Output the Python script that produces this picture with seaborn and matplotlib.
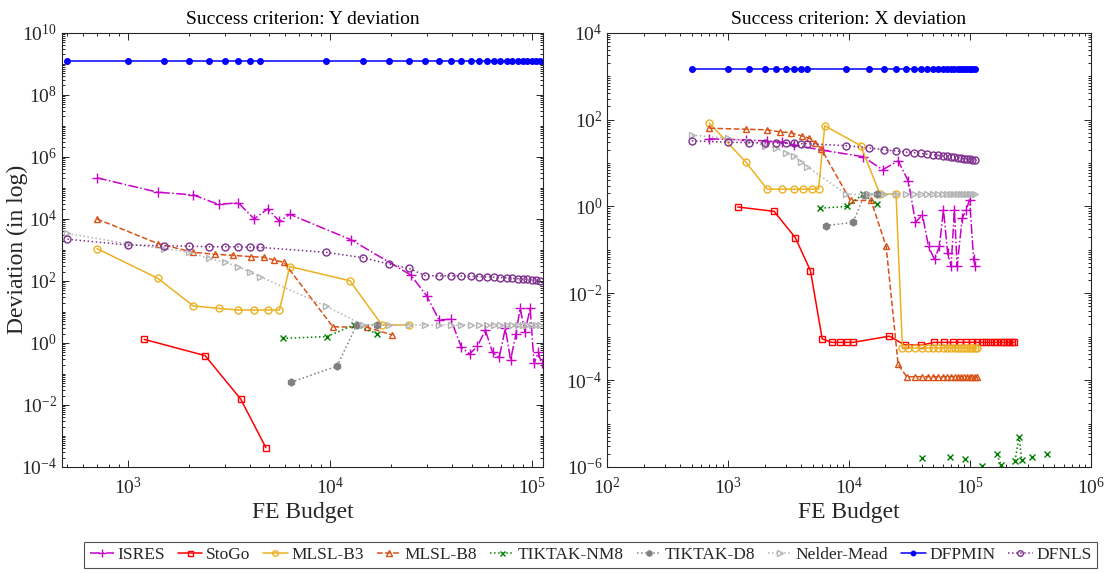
import numpy as np
import pandas as pd
import matplotlib
matplotlib.use("Agg")
import matplotlib.pyplot as plt
from matplotlib.lines import Line2D
from matplotlib.ticker import NullFormatter
import seaborn as sns

# ---------------------------------------------------------------- data
METHODS = ["ISRES", "StoGo", "MLSL-B3", "MLSL-B8", "TIKTAK-NM8",
           "TIKTAK-D8", "Nelder-Mead", "DFPMIN", "DFNLS"]

# budget grid shared by DFPMIN, Nelder-Mead and DFNLS
GRID = [500, 1000, 1500, 2000, 2500, 3000, 3500, 4000, 4500, 9500,
        14500, 19500, 24500, 29500, 34500, 39500, 44500, 49500, 54500, 59500,
        64500, 69500, 74500, 79500, 84500, 89500, 94500, 99500, 104500, 109500]

# ---- left panel: Y deviation
ISRES_Y_X = [700, 1400, 2100, 2800, 3500, 4200, 4900, 5600, 6300, 12700,
             25000, 30000, 34500, 39500, 44500, 49000, 53500, 58500, 63500, 68500,
             73500, 78000, 83000, 87000, 92000, 97500, 102000, 107000, 111000]
ISRES_Y = [2.1e5, 7.2e4, 5.9e4, 2.9e4, 3.3e4, 9.9e3, 2.1e4, 8.3e3, 1.4e4, 2.1e3,
           155, 33, 5.5, 5.8, 0.72, 0.44, 0.79, 2.6, 0.5, 0.34,
           2.95, 0.28, 2.0, 13, 2.3, 13, 0.22, 0.5, 0.22]
STOGO_Y_X = [1200, 2400, 3600, 4800]
STOGO_Y = [1.3, 0.39, 0.0155, 4.2e-4]
B3_X = [700, 1400, 2100, 2800, 3500, 4200, 4900, 5600, 6300, 12500, 18000, 24500]
B3_Y = [1100, 121, 15.5, 13, 11.5, 11.5, 11.5, 11.5, 290, 101, 3.8, 3.8]
B8_X = [700, 1400, 2100, 2700, 3300, 4050, 4700, 5250, 5900, 10300, 15200, 20300]
B8_Y = [9900, 1600, 835, 717, 665, 602, 575, 471, 396, 3.3, 3.2, 1.8]
NM8_Y_X = [5800, 9600, 13100, 17000]
NM8_Y = [1.4, 1.6, 3.8, 2.0]
D8_X = [6400, 10800, 13500, 17000]
D8_Y = [0.054, 0.18, 3.8, 3.8]
NELDER_Y = [3400, 1550, 1100, 835, 533, 396, 290, 189, 137, 15.5,
            3.8, 3.8, 3.8, 3.8, 3.8, 3.8, 3.8, 3.8, 3.8, 3.8,
            3.8, 3.8, 3.8, 3.8, 3.8, 3.8, 3.8, 3.8, 3.8, 3.8]
DFPMIN_Y = [1.2e9, 1.2e9, 1.2e9, 1.2e9, 1.2e9, 1.2e9, 1.2e9, 1.2e9, 1.2e9, 1.2e9,
            1.2e9, 1.2e9, 1.2e9, 1.2e9, 1.2e9, 1.2e9, 1.2e9, 1.2e9, 1.2e9, 1.2e9,
            1.2e9, 1.2e9, 1.2e9, 1.2e9, 1.2e9, 1.2e9, 1.2e9, 1.2e9, 1.2e9, 1.2e9]
DFNLS_Y = [2200, 1430, 1350, 1320, 1260, 1260, 1260, 1200, 1200, 835,
           558, 347, 254, 147, 146, 145, 143, 140, 137, 134,
           131, 128, 125, 121, 118, 114, 111, 108, 104, 100]

# ---- right panel: X deviation
ISRES_X_X = [700, 1400, 2100, 2800, 3500, 6100, 13000, 19000, 25500, 31000,
             35500, 40500, 45500, 51000, 56000, 60500, 65500, 70000, 74500, 78500,
             86500, 93500, 99500, 107500, 111000]
ISRES_X = [36, 34, 32, 30, 26, 19.6, 14, 7.0, 11.2, 3.8,
           0.43, 0.64, 0.12, 0.06, 0.12, 0.84, 0.085, 0.042, 0.84, 0.042,
           0.54, 0.84, 1.43, 0.06, 0.042]
STOGO_X_X = [1200, 2400, 3600, 4800, 6000, 7200, 8400, 9600, 10800, 21600,
             28800, 39600, 50400, 61200, 72000, 82800, 93600, 104400, 115200, 126000,
             136800, 147600, 158400, 169200, 180000, 190800, 201600, 212400, 223200, 234000]
STOGO_X = [0.97, 0.77, 0.19, 0.033, 8.9e-4, 7.4e-4, 7.4e-4, 7.4e-4, 7.4e-4, 1.03e-3,
           6.5e-4, 6.4e-4, 7.4e-4, 7.4e-4, 7.4e-4, 7.4e-4, 7.4e-4, 7.4e-4, 7.4e-4, 7.4e-4,
           7.4e-4, 7.4e-4, 7.4e-4, 7.4e-4, 7.4e-4, 7.4e-4, 7.4e-4, 7.4e-4, 7.4e-4, 7.4e-4]
B3_XD_X = [700, 1400, 2100, 2800, 3500, 4200, 4900, 5600, 6300, 12500,
           18000, 24500, 27700, 31000, 35000, 40000, 45000, 50000, 55000, 60000,
           65000, 70000, 75000, 80000, 85000, 90000, 95000, 100000, 105000, 110000, 115000]
B3_XD = [83, 10.5, 2.5, 2.5, 2.5, 2.5, 2.5, 2.5, 72, 25,
         1.93, 1.93, 5.5e-4, 5.5e-4, 5.5e-4, 5.5e-4, 5.5e-4, 5.5e-4, 5.5e-4, 5.5e-4,
         5.5e-4, 5.5e-4, 5.5e-4, 5.5e-4, 5.5e-4, 5.5e-4, 5.5e-4, 5.5e-4, 5.5e-4, 5.5e-4, 5.5e-4]
B8_XD_X = [700, 1400, 2100, 2700, 3300, 4050, 4700, 5250, 5900, 10300,
           15200, 20300, 25500, 30000, 35000, 40000, 45000, 50000, 55000, 60000,
           65000, 70000, 75000, 80000, 85000, 90000, 95000, 100000, 105000, 110000, 115000]
B8_XD = [63, 60, 58, 52, 50, 42, 37, 29.5, 21, 1.37,
         1.37, 0.12, 2.3e-4, 1.2e-4, 1.2e-4, 1.2e-4, 1.2e-4, 1.2e-4, 1.2e-4, 1.2e-4,
         1.2e-4, 1.2e-4, 1.2e-4, 1.2e-4, 1.2e-4, 1.2e-4, 1.2e-4, 1.2e-4, 1.2e-4, 1.2e-4, 1.2e-4]
# NaN marks budgets without a recorded result (breaks the line)
NM8_X_X = [5800, 9600, 13100, 17000, 28000, 40000, 55000, 69000, 80000, 92000,
           110000, 125000, 145000, 167000, 182000, 210000, 236000, 256000, 268000, 295000,
           325000, 380000, 435000]
NM8_X = [0.91, 1.0, 1.9, 1.14, np.nan, 1.65e-6, np.nan, 1.74e-6, np.nan, 1.55e-6,
         np.nan, 1.05e-6, np.nan, 1.95e-6, 1.1e-6, np.nan, 1.38e-6, 5.0e-6, 1.45e-6, np.nan,
         1.7e-6, np.nan, 2.0e-6]
D8_XD = [0.36, 0.43, 1.86, 1.9]
NELDER_X = [44, 37, 31.5, 25, 22, 17, 14.6, 10.8, 8.3, 1.9,
            1.9, 1.9, 1.9, 1.9, 1.9, 1.9, 1.9, 1.9, 1.9, 1.9,
            1.9, 1.9, 1.9, 1.9, 1.9, 1.9, 1.9, 1.9, 1.9, 1.9]
DFPMIN_X = [1450, 1450, 1450, 1450, 1450, 1450, 1450, 1450, 1450, 1450,
            1450, 1450, 1450, 1450, 1450, 1450, 1450, 1450, 1450, 1450,
            1450, 1450, 1450, 1450, 1450, 1450, 1450, 1450, 1450, 1450]
DFNLS_X = [32.5, 30, 29.5, 29, 28.7, 28.5, 28.3, 28, 27.8, 25,
           22.4, 20, 19, 17.8, 17.2, 16.6, 16.0, 15.5, 15.0, 14.6,
           14.2, 13.8, 13.5, 13.2, 12.9, 12.6, 12.4, 12.2, 12.0, 11.9]

# ---------------------------------------------------------------- styles
STYLE = {  # colour, line style, marker, marker size, filled
    "ISRES":       ("#c800c8", "-.", "+", 7, False),
    "StoGo":       ("#ff0000", "-",  "s", 4.5, False),
    "MLSL-B3":     ("#edb120", "-",  "o", 5, False),
    "MLSL-B8":     ("#d95319", "--", "^", 5, False),
    "TIKTAK-NM8":  ("#008000", ":",  "x", 4.5, False),
    "TIKTAK-D8":   ("#808080", ":",  "h", 5, True),
    "Nelder-Mead": ("#b4b4b4", ":",  ">", 5, False),
    "DFPMIN":      ("#0000ff", "-",  "o", 4, True),
    "DFNLS":       ("#7e2f8e", ":",  "o", 5, False),
}

PANELS = [
    ("Success criterion: Y deviation", {
        "ISRES": (ISRES_Y_X, ISRES_Y), "StoGo": (STOGO_Y_X, STOGO_Y),
        "MLSL-B3": (B3_X, B3_Y), "MLSL-B8": (B8_X, B8_Y),
        "TIKTAK-NM8": (NM8_Y_X, NM8_Y), "TIKTAK-D8": (D8_X, D8_Y),
        "Nelder-Mead": (GRID, NELDER_Y), "DFPMIN": (GRID, DFPMIN_Y),
        "DFNLS": (GRID, DFNLS_Y)}),
    ("Success criterion: X deviation", {
        "ISRES": (ISRES_X_X, ISRES_X), "StoGo": (STOGO_X_X, STOGO_X),
        "MLSL-B3": (B3_XD_X, B3_XD), "MLSL-B8": (B8_XD_X, B8_XD),
        "TIKTAK-NM8": (NM8_X_X, NM8_X), "TIKTAK-D8": (D8_X, D8_XD),
        "Nelder-Mead": (GRID, NELDER_X), "DFPMIN": (GRID, DFPMIN_X),
        "DFNLS": (GRID, DFNLS_X)}),
]

# ---------------------------------------------------------------- figure
sns.set_theme(style="ticks")
plt.rcParams["font.family"] = ["Liberation Serif", "DejaVu Serif"]
plt.rcParams["mathtext.fontset"] = "stix"
INK = "#262626"

W, H = 1108, 573
fig = plt.figure(figsize=(W / 100, H / 100), dpi=100)
ax_l = fig.add_axes([62 / W, 1 - 467 / H, 480.7 / W, 434.3 / H])
ax_r = fig.add_axes([607.3 / W, 1 - 467 / H, 483.4 / W, 434.3 / H])


def draw(ax, series):
    for name in METHODS:
        xs, ys = series[name]
        color, ls, mk, ms, filled = STYLE[name]
        df = pd.DataFrame({"budget": xs, "dev": ys})
        df["seg"] = df["dev"].isna().cumsum()
        df = df.dropna()
        sns.lineplot(data=df, x="budget", y="dev", units="seg", estimator=None,
                     sort=False, ax=ax, legend=False, color=color, linestyle=ls,
                     linewidth=1.1, marker=mk, markersize=ms,
                     markeredgecolor=color, markeredgewidth=1.0,
                     markerfacecolor=color if filled else "none")


def log_minor(lo, hi):
    return [m * 10.0 ** e for e in range(lo, hi) for m in range(2, 10)]


for ax, (title, series) in zip([ax_l, ax_r], PANELS):
    ax.set_xscale("log")
    ax.set_yscale("log")
    draw(ax, series)
    ax.set_title(title, fontsize=14, color="black", pad=6)
    ax.set_xlabel("FE Budget", fontsize=17, color=INK, labelpad=3)
    ax.set_ylabel("")
    ax.tick_params(which="both", direction="in", top=True, right=True,
                   colors=INK, labelsize=14, width=0.7)
    ax.tick_params(which="major", length=5)
    ax.tick_params(which="minor", length=2.5)
    ax.tick_params(axis="x", which="major", pad=7)
    for sp in ax.spines.values():
        sp.set_linewidth(0.8)
        sp.set_color(INK)

# left panel axes (ticks first, limits afterwards)
ax_l.set_xticks([1e3, 1e4, 1e5])
ax_l.set_xticks(log_minor(2, 5), minor=True)
ax_l.set_yticks([10.0 ** e for e in range(-4, 11, 2)])
ax_l.set_yticks([10.0 ** e for e in range(-3, 10, 2)] + log_minor(-4, 10), minor=True)
ax_l.set_xlim(470, 112500)
ax_l.set_ylim(1e-4, 1e10)
ax_l.set_ylabel("Deviation (in log)", fontsize=17, color=INK)
ax_l.yaxis.set_label_coords(-0.07, 0.5)

# right panel axes
ax_r.set_xticks([10.0 ** e for e in range(2, 7)])
ax_r.set_xticks(log_minor(2, 6), minor=True)
ax_r.set_yticks([10.0 ** e for e in range(-6, 5, 2)])
ax_r.set_yticks([10.0 ** e for e in range(-5, 4, 2)] + log_minor(-6, 4), minor=True)
ax_r.set_xlim(1e2, 1e6)
ax_r.set_ylim(1e-6, 1e4)

for ax in (ax_l, ax_r):
    ax.xaxis.set_minor_formatter(NullFormatter())
    ax.yaxis.set_minor_formatter(NullFormatter())

# shared legend along the bottom
handles = []
for name in METHODS:
    color, ls, mk, ms, filled = STYLE[name]
    handles.append(Line2D([], [], color=color, linestyle=ls, linewidth=1.1,
                          marker=mk, markersize=ms * 0.8, markeredgecolor=color,
                          markerfacecolor=color if filled else "none",
                          label=name))
leg = fig.legend(handles=handles, loc="center", ncol=len(METHODS),
                 bbox_to_anchor=(590.5 / W, 1 - 555 / H), fontsize=12.5,
                 frameon=True, fancybox=False, edgecolor=INK,
                 handlelength=1.4, handletextpad=0.2, columnspacing=0.75,
                 borderpad=0.3, borderaxespad=0)
leg.get_frame().set_linewidth(0.8)

fig.savefig("out.png", dpi=100, facecolor="white")
